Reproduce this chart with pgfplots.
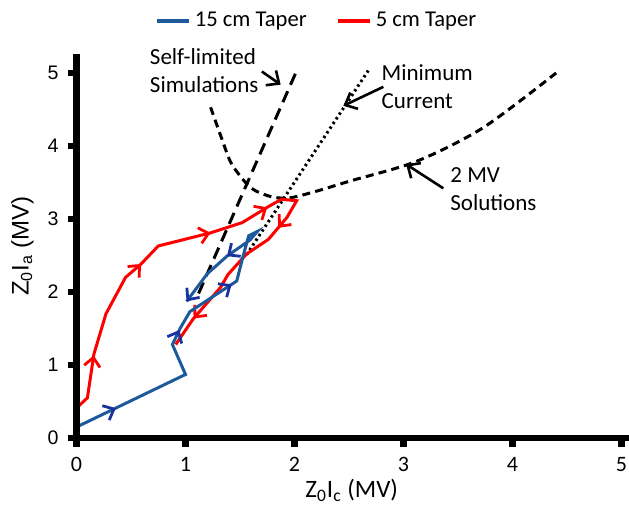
\documentclass[border=0pt]{standalone}
\usepackage{fontspec}
\setmainfont{Carlito}
\newfontfamily\arialf{Liberation Sans}
\usepackage{pgfplots}
\pgfplotsset{compat=1.18}
\usetikzlibrary{decorations.markings,arrows.meta}
\definecolor{bluel}{RGB}{30,90,155}
\definecolor{navya}{RGB}{25,50,160}
\definecolor{redl}{RGB}{255,0,0}
\begin{document}
\begin{tikzpicture}
\begin{axis}[
  scale only axis,
  width=275.25pt, height=192pt,
  xmin=0, xmax=5.05, ymin=0, ymax=5.26,
  axis x line*=bottom, axis y line*=left,
  x axis line style={draw=none,-},
  y axis line style={draw=none,-},
  xtick={0,1,2,3,4,5}, ytick={0,1,2,3,4,5},
  tick align=outside,
  major tick length=4.5pt,
  major tick style={draw=none},
  xticklabel style={yshift=-1.5pt},
  yticklabel style={xshift=-1pt},
  /pgf/number format/assume math mode=true,
  xticklabel style={font=\fontsize{11}{13}\selectfont},
  yticklabel style={font=\arialf\fontsize{9.8}{12}\selectfont},
  xlabel={Z\textsubscript{0}I\textsubscript{c} (MV)},
  ylabel={Z\textsubscript{0}I\textsubscript{a} (MV)},
  xlabel style={font=\fontsize{12.5}{14}\selectfont, at={(axis description cs:0.5,-0.156)}, anchor=base},
  ylabel style={font=\arialf\fontsize{12}{14}\selectfont, at={(axis description cs:-0.087,0.5)}, anchor=base},
  clip=false,
  legend style={at={(rel axis cs:0.4386,1.086)}, anchor=center, draw=none, fill=none,
    font=\fontsize{11.3}{13}\selectfont, inner sep=0pt,
    /tikz/every even column/.append style={column sep=13pt}},
  legend columns=2,
  legend image code/.code={\draw[#1] (0pt,0pt) -- (16pt,0pt);},
]
\addlegendimage{bluel, line width=1.6pt}
\addlegendentry{15 cm Taper}
\addlegendimage{redl, line width=1.6pt}
\addlegendentry{5 cm Taper}

% Self-limited simulations (long dashes)
\addplot[black, line width=1.5pt, dash pattern=on 6pt off 3.5pt, forget plot] coordinates {(1.12,1.98) (2.02,5.03)};
% Minimum current (dotted)
\addplot[black, line width=1.5pt, dash pattern=on 1.2pt off 1.6pt, forget plot] coordinates {(1.56,2.51) (2.68,5.04)};
% 2 MV solutions (short dashes)
\addplot[black, line width=1.5pt, dash pattern=on 4pt off 2.6pt, smooth, tension=0.5, forget plot] coordinates {
(1.23,4.53) (1.33,4.11) (1.41,3.79) (1.49,3.61) (1.57,3.47) (1.65,3.38) (1.80,3.30) (1.96,3.29) (2.20,3.38) (2.51,3.52) (3.12,3.79) (3.73,4.25) (4.40,5.0)};

% 5 cm taper
\addplot[redl, line width=1.5pt, forget plot, postaction={decorate},
  decoration={markings,
    mark=at position 0.11 with {\arrow[redl,line width=1.4pt]{Straight Barb[length=4.5pt,width=8pt]}},
    mark=at position 0.31 with {\arrow[redl,line width=1.4pt]{Straight Barb[length=4.5pt,width=8pt]}},
    mark=at position 0.46 with {\arrow[redl,line width=1.4pt]{Straight Barb[length=4.5pt,width=8pt]}},
    mark=at position 0.579 with {\arrow[redl,line width=1.4pt]{Straight Barb[length=4.5pt,width=8pt]}},
    mark=at position 0.702 with {\arrow[redl,line width=1.4pt]{Straight Barb[length=4.5pt,width=8pt]}},
    mark=at position 0.94 with {\arrow[redl,line width=1.4pt]{Straight Barb[length=4.5pt,width=8pt]}}}]
 coordinates {
(0,0.41) (0.10,0.55) (0.16,1.15) (0.27,1.70) (0.45,2.20) (0.59,2.38) (0.75,2.63) (1.23,2.81) (1.52,2.95) (1.75,3.16) (1.88,3.27) (2.02,3.25) (1.93,3.02) (1.76,2.72) (1.56,2.52) (1.39,2.24) (1.32,2.06) (1.07,1.63) (0.91,1.28)};

% 15 cm taper
\addplot[bluel, line width=1.5pt, forget plot, postaction={decorate},
  decoration={markings,
    mark=at position 0.108 with {\arrow[navya,line width=1.4pt]{Straight Barb[length=4.5pt,width=8pt]}},
    mark=at position 0.42 with {\arrow[navya,line width=1.4pt]{Straight Barb[length=4.5pt,width=8pt]}},
    mark=at position 0.596 with {\arrow[navya,line width=1.4pt]{Straight Barb[length=4.5pt,width=8pt]}},
    mark=at position 0.849 with {\arrow[navya,line width=1.4pt]{Straight Barb[length=4.5pt,width=8pt]}},
    mark=at position 1 with {\arrow[navya,line width=1.4pt]{Straight Barb[length=4.5pt,width=8pt]}}}]
 coordinates {
(0,0.15) (1.0,0.87) (0.88,1.28) (0.95,1.50) (1.04,1.73) (1.47,2.15) (1.53,2.50) (1.58,2.77) (1.66,2.83) (1.59,2.71) (1.38,2.49) (1.20,2.25) (1.01,1.87)};

% axis lines and ticks (drawn as filled rectangles so they are thick)
\fill[black] ([xshift=-1.6pt,yshift=-1.6pt]rel axis cs:0,0) rectangle ([xshift=1.6pt]rel axis cs:0,1);
\fill[black] ([xshift=-1.6pt,yshift=-1.6pt]rel axis cs:0,0) rectangle ([xshift=1.6pt,yshift=1.6pt]rel axis cs:1,0);
\pgfplotsinvokeforeach{0,1,2,3,4,5}{
  \fill[black] ([xshift=-1.6pt]axis cs:#1,0) rectangle ([xshift=1.6pt,yshift=-4.6pt]axis cs:#1,0);
  \fill[black] ([yshift=-1.7pt]axis cs:0,#1) rectangle ([xshift=-4.3pt,yshift=1.7pt]axis cs:0,#1);
}

% annotations
\tikzset{annot/.style={font=\fontsize{11.5}{14}\selectfont, anchor=base west, inner sep=0pt, outer sep=0pt}}
\node[annot] at (axis cs:0.674,5.11) {Self-limited};
\node[annot] at (axis cs:0.674,4.73) {Simulations};
\node[annot] at (axis cs:2.80,4.895) {Minimum};
\node[annot] at (axis cs:2.80,4.507) {Current};
\node[annot] at (axis cs:3.43,3.50) {2 MV};
\node[annot] at (axis cs:3.43,3.12) {Solutions};
\draw[black, line width=1.3pt, -{Straight Barb[length=5pt,width=9pt]}] (axis cs:1.70,5.02) -- (axis cs:1.873,4.84);
\draw[black, line width=1.3pt, -{Straight Barb[length=5pt,width=9pt]}] (axis cs:2.815,4.81) -- (axis cs:2.448,4.55);
\draw[black, line width=1.3pt, -{Straight Barb[length=5pt,width=9pt]}] (axis cs:3.365,3.42) -- (axis cs:3.023,3.75);
\end{axis}
\pgfresetboundingbox
\useasboundingbox (-38.25pt,-34pt) rectangle (276.25pt,219pt);
\end{tikzpicture}
\end{document}
